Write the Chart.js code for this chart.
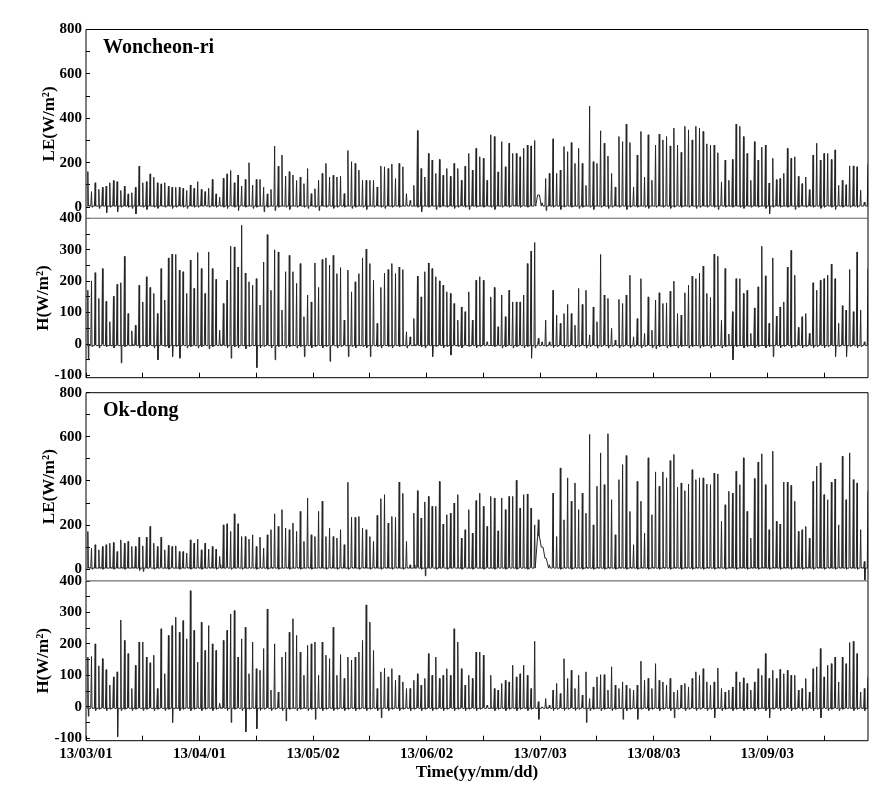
<!DOCTYPE html>
<html>
<head>
<meta charset="utf-8">
<script src="https://cdn.jsdelivr.net/npm/chart.js@4.4.1/dist/chart.umd.min.js"></script>
<style>
  html, body { margin: 0; padding: 0; background: #fff; }
  #wrap { position: relative; width: 884px; height: 796px; }
  #wrap canvas { position: absolute; left: 0; top: 0; }
</style>
</head>
<body>
<div id="wrap">
  <canvas id="leWon" width="884" height="796"></canvas>
  <canvas id="hWon" width="884" height="796"></canvas>
  <canvas id="leOk" width="884" height="796"></canvas>
  <canvas id="hOk" width="884" height="796"></canvas>
</div>
<script>
// x axis: days since 13/03/01
const dateLabels = ['13/03/01', '13/04/01', '13/05/02', '13/06/02', '13/07/03', '13/08/03', '13/09/03'];
const dateTickDays = [0, 31, 62, 93, 124, 155, 186];
const minorTickDays = [15.5, 46.5, 77.5, 108.5, 139.5, 170.5, 201.5];
const X_MAX = 213.5;

const leTicks = [0, 100, 200, 300, 400, 500, 600, 700, 800];
const hTicks = [-100, -50, 0, 50, 100, 150, 200, 250, 300, 350, 400];

// typical night level between the daily spikes (W/m2)
const leNightLevel = 5;
const hNightLevel = -5;

// Woncheon-ri, daily LE peak / evening low (W/m2)
const leWonPeak = [
  160,70,110,80,90,95,110,120,115,75,
  95,60,65,90,185,110,115,150,135,110,
  105,110,95,90,90,90,85,75,100,85,
  115,80,70,85,125,60,45,130,150,165,
  110,145,95,125,200,100,125,125,90,60,
  80,275,185,235,140,160,145,120,
  136,106,174,61,83,121,152,197,136,144,
  136,139,61,255,205,197,167,121,121,121,
  121,91,185,182,174,194,129,197,182,61,
  30,98,345,174,136,242,212,152,215,144,
  174,139,197,174,121,185,242,167,265,227,
  220,121,326,318,159,295,182,288,242,242,
  227,265,280,276,300,55,20,129,152,308,
  152,167,273,250,291,197,265,197,98,455,
  205,197,344,288,230,152,91,318,295,374,
  291,91,235,341,136,326,121,280,329,303,
  318,276,356,280,247,364,348,303,364,356,
  341,285,280,280,245,114,212,121,215,374,
  364,318,242,121,295,212,270,280,109,220,
  124,129,152,265,220,227,139,106,136,79,
  235,288,212,242,242,215,258,98,121,101,
  186,186,182,76,23,197
];
const leWonLow = [
  10,0,5,-5,5,-25,0,5,-20,0,
  5,0,-5,-30,5,0,-10,5,0,-5,
  5,0,5,-5,0,5,0,-5,5,0,
  0,5,10,0,5,0,5,0,-5,5,
  0,-15,5,0,5,-5,0,5,-20,0,
  5,-15,0,5,0,-10,5,0,5,0,
  -5,5,0,-15,5,0,5,-5,0,5,
  0,5,-5,0,5,0,-10,5,0,5,
  0,-5,5,0,5,0,5,10,20,5,
  0,-20,5,0,5,-10,0,5,0,5,
  -5,0,5,0,-10,5,0,5,0,5,
  0,-10,5,0,5,0,10,5,0,5,
  0,5,10,55,20,-15,5,0,5,-10,
  0,5,0,5,-5,0,5,0,-10,5,
  0,5,-5,0,5,0,5,-10,0,5,
  0,5,0,-5,5,0,5,0,5,-5,
  0,5,0,5,0,5,-5,0,5,0,
  5,0,-10,5,0,5,0,5,0,-5,
  5,0,5,0,5,-5,-30,0,5,0,
  5,0,5,-10,0,5,0,5,0,5,
  -5,0,5,0,-10,5,0,5,0,5,
  0,5,10,5
];

// Woncheon-ri, daily H peak / evening low (W/m2)
const hWonPeak = [
  171,201,227,145,240,136,71,152,190,195,
  279,97,42,60,187,134,214,180,161,97,
  240,140,274,286,285,235,230,161,267,177,
  291,240,161,293,240,206,44,129,203,311,
  309,245,378,226,198,187,208,124,261,348,
  171,300,293,108,230,282,230,193,
  256,87,156,134,258,180,269,274,251,282,
  224,243,76,235,166,198,224,274,302,256,
  203,66,180,226,237,256,224,245,237,39,
  23,81,216,150,230,258,240,214,201,187,
  166,161,129,76,118,103,166,76,203,214,
  203,7,150,180,55,156,87,171,134,134,
  134,156,256,296,323,18,7,76,7,171,
  92,66,97,126,97,60,177,126,171,29,
  118,71,285,156,145,50,13,142,129,156,
  219,23,81,208,34,150,44,140,163,129,
  131,168,200,97,92,163,187,216,208,226,
  248,161,148,286,279,76,240,32,103,208,
  208,161,171,34,115,182,311,217,66,274,
  89,118,134,245,298,219,53,87,97,34,
  195,171,203,208,219,254,208,66,122,108,
  237,103,293,108,7,240
];
const hWonLow = [
  -50,-8,-3,-12,0,-8,-3,-12,-3,-60,
  -8,-3,0,-3,-12,-3,-8,-3,-12,-50,
  -3,-8,-12,-40,-8,-45,-3,-12,-8,-3,
  -12,-8,-3,-15,-8,-3,0,-3,-12,-45,
  -8,-12,-3,-15,-8,-3,-75,-12,-8,-3,
  -12,-50,-8,-3,-12,-8,-3,-12,-8,-40,
  -3,-12,-8,-3,-12,-8,-55,-3,-12,-8,
  -3,-40,-8,-12,-3,-8,-12,-40,-3,-8,
  -12,-3,-8,-12,-3,-8,-3,-12,0,0,
  -3,-8,-12,-3,-40,-8,-3,-12,-8,-35,
  -3,-8,-12,-3,-8,-3,-12,-8,-3,0,
  -3,-8,-3,-12,-8,-3,-12,-8,-3,-12,
  -8,-45,-12,0,0,-8,-3,-12,-8,-3,
  -12,-8,-3,-12,-8,-3,-12,-8,-3,-12,
  -8,-3,-12,-8,-3,-12,-8,-3,-12,-8,
  -3,-12,-8,-3,-12,-15,-8,-3,-12,-8,
  -3,-12,-8,-3,-12,-8,-3,-12,-8,-3,
  -12,-8,-3,-12,-8,-3,-50,-8,-3,-12,
  -8,-3,-12,-8,-3,-12,-8,-40,-3,-12,
  -8,-3,-12,-8,-3,-12,-8,-3,-12,-8,
  -3,-12,-8,-3,-40,-8,-3,-40,-8,-3,
  -12,-8,-3,-90
];

// Ok-dong, daily LE peak / evening low (W/m2)
const leOkPeak = [
  171,95,111,88,103,111,118,121,80,133,
  118,126,103,103,145,106,145,194,118,103,
  145,88,108,103,106,80,80,73,133,118,
  136,88,118,91,103,91,58,201,206,171,
  251,206,148,148,136,156,103,145,95,156,
  179,251,194,270,186,179,209,171,
  262,126,323,156,148,262,308,148,186,148,
  141,179,111,394,236,235,239,186,179,148,
  126,244,320,338,209,239,235,395,344,126,
  20,254,356,232,305,330,285,285,398,205,
  247,254,300,338,141,179,270,164,311,345,
  285,194,330,323,174,323,270,330,330,403,
  277,338,341,277,201,224,100,50,20,345,
  148,459,224,414,308,391,270,345,254,611,
  201,376,527,383,614,315,156,406,474,515,
  262,111,398,308,164,505,247,441,376,441,
  414,492,520,371,391,356,386,451,406,414,
  414,386,383,436,432,217,292,353,345,444,
  383,505,262,141,411,486,523,383,179,535,
  217,205,395,395,380,308,171,179,194,141,
  398,467,482,338,315,395,409,201,512,315,
  527,406,391,179,35,356
];
const leOkLow = [
  10,0,5,10,0,5,10,0,5,10,
  0,5,10,5,-5,-10,5,10,0,5,
  10,5,0,10,5,0,5,10,0,5,
  10,0,5,10,5,0,20,5,10,0,
  5,10,0,5,10,5,0,10,5,0,
  10,5,0,5,10,0,5,10,0,5,
  10,0,5,10,5,0,10,5,0,10,
  5,0,10,5,0,10,5,0,10,5,
  0,10,5,0,10,5,0,10,5,20,
  10,0,-30,5,10,0,5,10,0,5,
  10,5,0,10,5,0,10,5,0,10,
  5,0,10,5,0,10,5,0,10,5,
  0,10,5,150,100,50,20,10,5,0,
  10,5,0,10,5,0,10,5,0,10,
  5,0,10,5,0,10,5,0,10,5,
  0,10,5,0,10,5,0,10,5,0,
  10,5,0,10,5,0,10,5,0,10,
  5,0,10,5,0,10,5,0,10,5,
  0,10,5,0,10,5,0,10,5,0,
  10,5,0,10,5,0,10,5,0,10,
  5,0,10,5,0,10,5,0,10,5,
  0,10,-55,20
];

// Ok-dong, daily H peak / evening low (W/m2)
const hOkPeak = [
  158,160,200,130,153,118,69,95,111,276,
  211,169,58,132,206,206,158,140,164,58,
  248,105,227,258,285,237,274,216,369,243,
  142,269,179,258,200,179,11,211,243,295,
  306,158,216,253,105,206,121,116,185,311,
  53,200,47,158,174,237,280,227,
  174,100,195,200,206,100,206,164,153,253,
  100,166,90,158,148,158,174,211,324,269,
  179,58,111,123,95,121,84,100,79,58,
  58,84,105,69,90,169,100,158,90,100,
  121,100,248,206,121,69,100,90,174,174,
  164,5,100,58,53,74,84,79,132,95,
  105,132,100,58,208,16,0,26,5,53,
  74,42,153,90,116,58,100,37,111,26,
  63,95,102,102,53,127,69,58,79,69,
  58,53,69,145,84,90,58,137,84,79,
  69,90,47,53,69,74,63,90,111,100,
  121,79,69,79,123,58,47,53,63,111,
  79,92,74,53,79,121,100,169,90,116,
  90,119,105,116,100,100,53,58,90,47,
  121,127,185,95,132,137,158,79,158,137,
  204,208,169,47,58,95
];
const hOkLow = [
  -30,-3,-12,-8,-3,-12,-8,-3,-95,-12,
  -8,-3,-12,-8,-3,-12,-8,-3,-12,-8,
  -3,-12,-8,-50,-3,-12,-8,-3,-12,-8,
  -3,-12,-8,-3,-12,-8,0,-3,-12,-50,
  -8,-3,-12,-80,-8,-3,-70,-12,-8,-3,
  -12,-8,-3,-12,-45,-8,-3,-12,-8,-3,
  -12,-8,-40,-3,-12,-8,-3,-12,-8,-3,
  -12,-8,-3,-12,-8,-3,-12,-8,-3,-12,
  -35,-3,-12,-8,-3,-12,-8,-3,-12,-8,
  -3,-12,-8,-3,-12,-8,-3,-12,-8,-3,
  -12,-8,-3,-12,-8,-3,-12,-8,-3,0,
  -3,-12,-8,-3,-12,-8,-3,-12,-8,-3,
  -12,-8,-3,-40,0,0,-3,-12,-8,-3,
  -12,-8,-3,-12,-8,-3,-50,-12,-8,-3,
  -12,-8,-3,-12,-8,-3,-40,-12,-8,-3,
  -40,-8,-3,-12,-8,-3,-12,-8,-3,-12,
  -35,-8,-3,-12,-8,-3,-12,-8,-3,-12,
  -8,-35,-3,-12,-8,-3,-12,-8,-3,-12,
  -8,-3,-12,-8,-3,-12,-35,-8,-3,-12,
  -8,-3,-12,-8,-3,-12,-8,-3,-12,-8,
  -35,-3,-12,-8,-3,-12,-8,-3,-3,-12,
  -8,-3,-12,-20
];

const FONT = '"Liberation Serif", "Times New Roman", serif';
Chart.defaults.font.family = FONT;
Chart.defaults.font.weight = 'bold';
Chart.defaults.color = '#000';

// one narrow spike per day: night level -> midday peak -> evening low -> night level
function dailyTrace(peaks, lows, night) {
  const pts = [];
  peaks.forEach((p, d) => {
    const base = (lows[d] > 40) ? lows[d] : night; // missing-data stretch stays on its own line
    pts.push({ x: d + 0.30, y: base });
    pts.push({ x: d + 0.5, y: p });
    pts.push({ x: d + 0.64, y: lows[d] });
    pts.push({ x: d + 0.78, y: base });
  });
  return pts;
}

// panel box + site name
const framePlugin = {
  id: 'frame',
  afterDraw(chart, args, opts) {
    const { ctx, chartArea: a } = chart;
    ctx.save();
    ctx.lineWidth = 1;
    const side = (color, x1, y1, x2, y2) => {
      ctx.strokeStyle = color;
      ctx.beginPath();
      ctx.moveTo(x1, y1);
      ctx.lineTo(x2, y2);
      ctx.stroke();
    };
    side(opts.topLine, a.left, a.top, a.right, a.top);
    side(opts.bottomLine, a.left, a.bottom, a.right, a.bottom);
    side('#000', a.left, a.top, a.left, a.bottom);
    side('#000', a.right, a.top, a.right, a.bottom);
    if (opts.label) {
      ctx.font = 'bold 20px ' + FONT;
      ctx.fillStyle = '#000';
      ctx.textBaseline = 'alphabetic';
      ctx.fillText(opts.label, a.left + 17, a.top + 23);
    }
    ctx.restore();
  }
};

function makePanel(id, p) {
  const xHeight = p.dates ? 55.3 : 0;
  return new Chart(document.getElementById(id), {
    type: 'line',
    data: {
      datasets: [{
        data: dailyTrace(p.peaks, p.lows, p.night),
        borderColor: '#262626',
        borderWidth: 1,
        pointRadius: 0,
        tension: 0,
        fill: false
      }]
    },
    options: {
      responsive: false,
      animation: false,
      events: [],
      layout: { padding: { top: p.top, bottom: 796 - p.bottom - xHeight, left: 0, right: 16 } },
      plugins: {
        legend: { display: false },
        tooltip: { enabled: false },
        frame: { topLine: p.topLine, bottomLine: p.bottomLine, label: p.label }
      },
      scales: {
        x: {
          type: 'linear',
          min: 0,
          max: X_MAX,
          display: p.xTicks,
          afterBuildTicks: s => {
            s.ticks = dateTickDays.concat(minorTickDays).sort((a, b) => a - b).map(v => ({ value: v }));
          },
          afterFit: s => { s.height = xHeight; s.paddingLeft = 0; s.paddingRight = 0; },
          grid: { drawOnChartArea: false, tickLength: -5, color: '#000' },
          border: { display: false },
          ticks: {
            display: !!p.dates,
            autoSkip: false,
            maxRotation: 0,
            padding: 9,
            font: { size: 15, weight: 'bold' },
            callback: v => {
              const i = dateTickDays.indexOf(v);
              return i < 0 ? '' : dateLabels[i];
            }
          },
          title: {
            display: !!p.dates,
            text: 'Time(yy/mm/dd)',
            font: { size: 17, weight: 'bold' },
            padding: { top: 0, bottom: 13.5 }
          }
        },
        y: {
          min: p.min,
          max: p.max,
          afterBuildTicks: s => { s.ticks = p.ticks.map(v => ({ value: v })); },
          afterFit: s => { s.width = 86; s.paddingTop = 0; s.paddingBottom = 0; },
          grid: { drawOnChartArea: false, tickLength: -4, color: '#000' },
          border: { display: false },
          ticks: {
            autoSkip: false,
            padding: 8,
            font: { size: 15, weight: 'bold' },
            callback: v => (v % p.labelStep === 0 ? v : '')
          },
          title: {
            display: true,
            text: p.title,
            font: { size: 17, weight: 'bold' },
            padding: { top: p.titlePad, bottom: 0 }
          }
        }
      }
    },
    plugins: [framePlugin]
  });
}

makePanel('leWon', {
  peaks: leWonPeak, lows: leWonLow, night: leNightLevel, top: 29.5, bottom: 218.3, min: -50, max: 800,
  ticks: leTicks, labelStep: 200, title: 'LE(W/m²)', titlePad: 39.5,
  xTicks: false, topLine: '#000', bottomLine: '#888', label: 'Woncheon-ri'
});
makePanel('hWon', {
  peaks: hWonPeak, lows: hWonLow, night: hNightLevel, top: 218.3, bottom: 377.7, min: -107, max: 400,
  ticks: hTicks, labelStep: 100, title: 'H(W/m²)', titlePad: 33.5,
  xTicks: true, topLine: '#888', bottomLine: '#000'
});
makePanel('leOk', {
  peaks: leOkPeak, lows: leOkLow, night: leNightLevel, top: 392.7, bottom: 580.7, min: -52, max: 800,
  ticks: leTicks, labelStep: 200, title: 'LE(W/m²)', titlePad: 39.5,
  xTicks: false, topLine: '#000', bottomLine: '#888', label: 'Ok-dong'
});
makePanel('hOk', {
  peaks: hOkPeak, lows: hOkLow, night: hNightLevel, top: 581, bottom: 740.7, min: -108, max: 400,
  ticks: hTicks, labelStep: 100, title: 'H(W/m²)', titlePad: 33.5,
  xTicks: true, dates: true, topLine: '#888', bottomLine: '#000'
});
</script>
</body>
</html>
